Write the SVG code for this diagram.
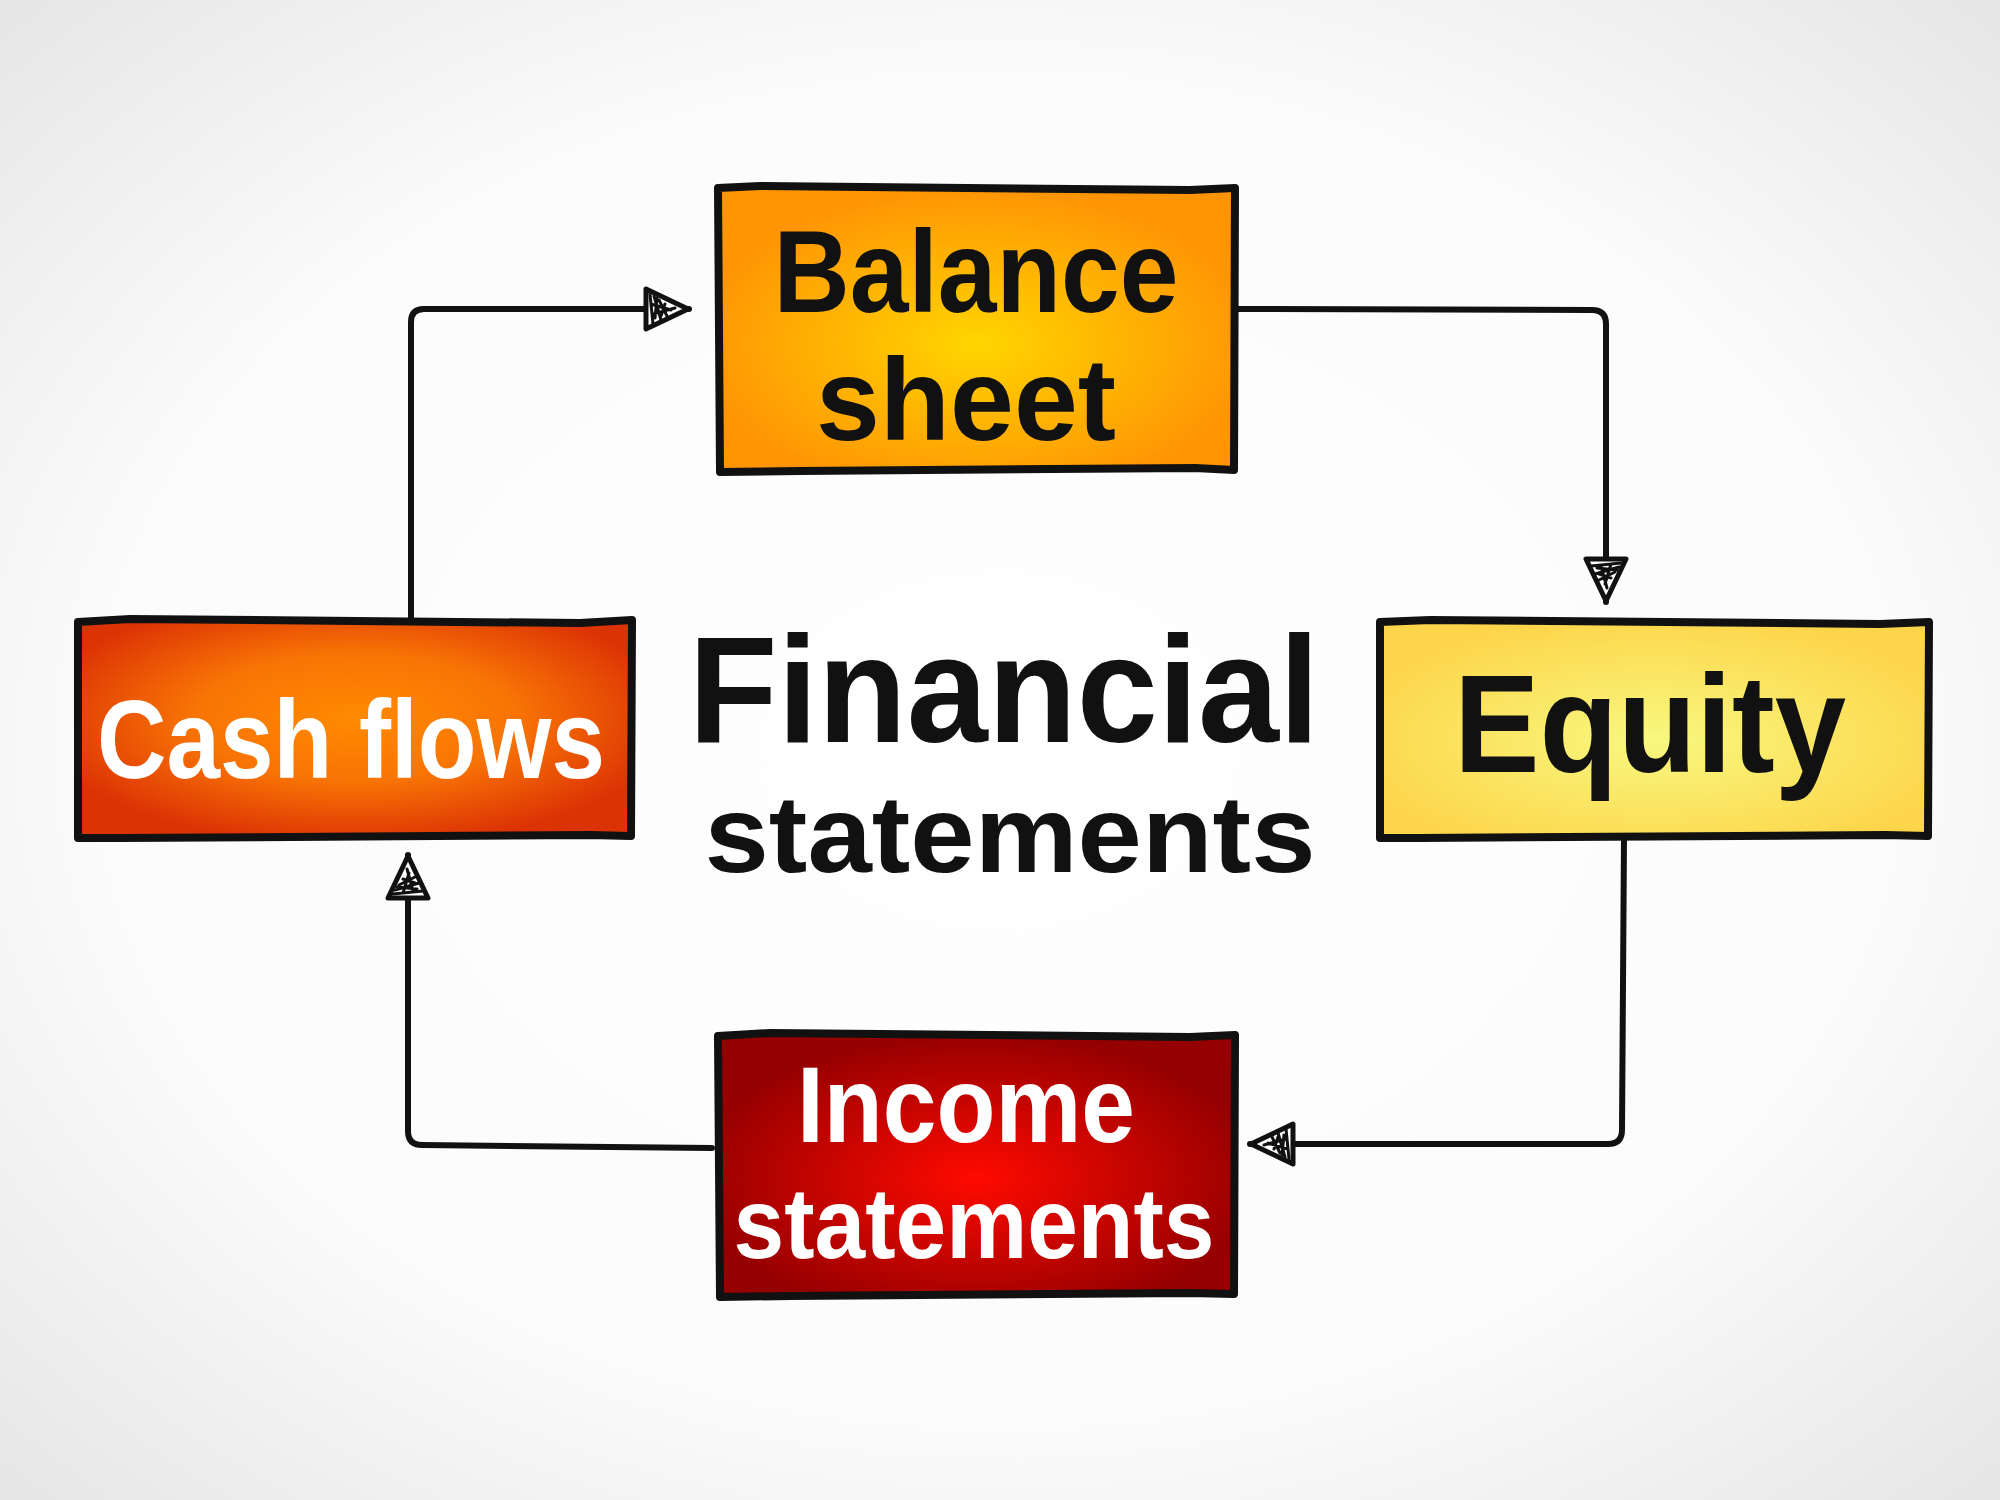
<svg xmlns="http://www.w3.org/2000/svg" width="2000" height="1500" viewBox="0 0 2000 1500">
<defs>
<radialGradient id="bg" cx="50%" cy="50%" r="75%">
<stop offset="0" stop-color="#ffffff"/><stop offset="0.6" stop-color="#fbfbfb"/><stop offset="1" stop-color="#e2e2e2"/>
</radialGradient>
<radialGradient id="gBal" cx="50%" cy="55%" r="55%">
<stop offset="0" stop-color="#ffd500"/><stop offset="1" stop-color="#ff9405"/>
</radialGradient>
<radialGradient id="gCash" cx="50%" cy="45%" r="58%">
<stop offset="0" stop-color="#ff8a00"/><stop offset="0.5" stop-color="#f87405"/><stop offset="1" stop-color="#dc3305"/>
</radialGradient>
<radialGradient id="gEq" cx="50%" cy="55%" r="58%">
<stop offset="0" stop-color="#f8f880"/><stop offset="1" stop-color="#fdd54a"/>
</radialGradient>
<radialGradient id="gInc" cx="50%" cy="55%" r="55%">
<stop offset="0" stop-color="#ff0a00"/><stop offset="1" stop-color="#950000"/>
</radialGradient>
<marker id="arr" viewBox="0 0 50 50" refX="48" refY="25" markerWidth="50" markerHeight="50" markerUnits="userSpaceOnUse" orient="auto">
<polygon points="5,5 47,25 5,45" fill="#fff" stroke="#111" stroke-width="5" stroke-linejoin="round"/>
<path d="M9,10 L12,40 M13,12 L20,36 M18,16 L26,32 M10,20 L30,26 M12,30 L34,24 M16,14 L14,34 M24,20 L20,32" stroke="#111" stroke-width="3" fill="none" stroke-linecap="round"/>
</marker>
<style>
.box{stroke:#111;stroke-width:8;stroke-linejoin:round}
.con{fill:none;stroke:#111;stroke-width:6;stroke-linejoin:round;stroke-linecap:round}
.t{font-family:"Liberation Sans","DejaVu Sans",sans-serif;font-weight:bold;text-anchor:middle}
.blk{fill:#111}
.wht{fill:#fff}
</style>
</defs>
<rect x="0" y="0" width="2000" height="1500" fill="url(#bg)"/>

<g id="connectors">
<path class="con" d="M411,620 L411,322 Q411,309 424,309 L689,309" marker-end="url(#arr)"/>
<path class="con" d="M1235,309 L1592,310 Q1606,310 1606,324 L1606,602" marker-end="url(#arr)"/>
<path class="con" d="M1624,838 L1622,1130 Q1622,1144 1608,1144 L1250,1144" marker-end="url(#arr)"/>
<path class="con" d="M712,1148 L422,1145 Q408,1145 408,1131 L408,855" marker-end="url(#arr)"/>
</g>

<g id="balance-sheet">
<path class="box" fill="url(#gBal)" d="M718,188 L760,186 L1190,190 L1235,188 L1234,470 L1195,468 L800,471 L720,472 Z"/>
<text class="t blk" x="976" y="312" font-size="116" textLength="405" lengthAdjust="spacingAndGlyphs">Balance</text>
<text class="t blk" x="966" y="440" font-size="116" textLength="300" lengthAdjust="spacingAndGlyphs">sheet</text>
</g>

<g id="cash-flows">
<path class="box" fill="url(#gCash)" d="M78,622 L130,619 L580,623 L632,620 L631,836 L590,835 L120,838 L78,838 Z"/>
<text class="t wht" x="351" y="778" font-size="112" textLength="508" lengthAdjust="spacingAndGlyphs">Cash flows</text>
</g>

<g id="equity">
<path class="box" fill="url(#gEq)" d="M1380,622 L1430,620 L1880,624 L1929,622 L1928,836 L1885,835 L1420,838 L1380,838 Z"/>
<text class="t blk" x="1650" y="772" font-size="140" textLength="392" lengthAdjust="spacingAndGlyphs">Equity</text>
</g>

<g id="income-statements">
<path class="box" fill="url(#gInc)" d="M718,1036 L770,1033 L1190,1037 L1235,1035 L1234,1294 L1190,1293 L790,1296 L720,1297 Z"/>
<text class="t wht" x="966" y="1142" font-size="108" textLength="338" lengthAdjust="spacingAndGlyphs">Income</text>
<text class="t wht" x="974" y="1258" font-size="100" textLength="481" lengthAdjust="spacingAndGlyphs">statements</text>
</g>

<g id="financial-statements">
<text class="t blk" x="1004" y="742" font-size="152" textLength="631" lengthAdjust="spacingAndGlyphs">Financial</text>
<text class="t blk" x="1010" y="872" font-size="110" textLength="611" lengthAdjust="spacingAndGlyphs">statements</text>
</g>
</svg>
